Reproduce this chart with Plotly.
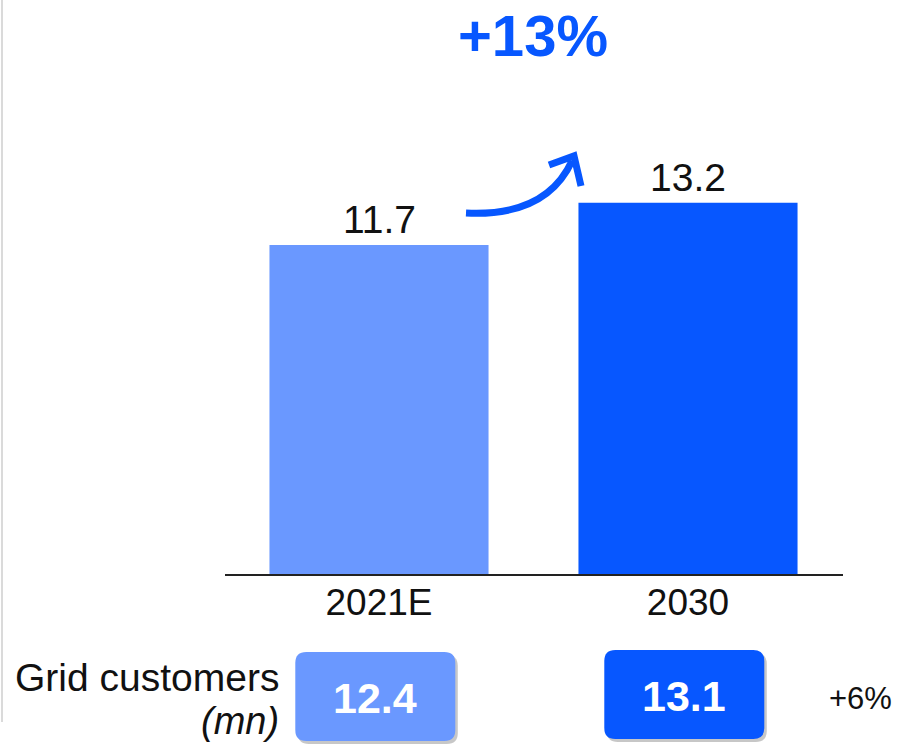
import plotly.graph_objects as go

# Data
years = ["2021E", "2030"]
customers_bn = [11.7, 13.2]
grid_customers_mn = [12.4, 13.1]
bar_growth = "+13%"
grid_growth = "+6%"

light_blue = "#6A98FF"
dark_blue = "#0757FF"
bar_colors = [light_blue, dark_blue]

W, H = 897, 744
FONT = "Arial, Liberation Sans, Helvetica, sans-serif"


def px(x):
    return x / W


def py(y):
    return 1 - y / H


fig = go.Figure()

fig.add_trace(go.Bar(
    x=years,
    y=customers_bn,
    width=0.709,
    marker=dict(color=bar_colors, line=dict(width=0)),
    cliponaxis=False,
    hoverinfo="skip",
))

shapes = []

# thin grey rule on the left edge
shapes.append(dict(type="line", xref="paper", yref="paper",
                   x0=px(2), x1=px(2), y0=py(0), y1=py(722),
                   line=dict(color="#DADADA", width=2)))

# curved growth arrow between the two bars
shapes.append(dict(type="path", xref="paper", yref="paper",
                   path=(f"M {px(466)},{py(213)} Q {px(546)},{py(217)} {px(572)},{py(161)}"),
                   line=dict(color=dark_blue, width=7)))
shapes.append(dict(type="path", xref="paper", yref="paper",
                   path=(f"M {px(549)},{py(165)} L {px(574)},{py(156)} L {px(581)},{py(186)}"),
                   line=dict(color=dark_blue, width=7)))


def rounded_rect(xc, half_w, y_top, y_bot, r_px):
    """Rounded rectangle: x in category units, y in paper units."""
    rx = r_px / 309.0
    ry = r_px / H
    x0, x1 = xc - half_w, xc + half_w
    y0, y1 = py(y_bot), py(y_top)
    return (f"M {x0 + rx},{y1} L {x1 - rx},{y1} Q {x1},{y1} {x1},{y1 - ry} "
            f"L {x1},{y0 + ry} Q {x1},{y0} {x1 - rx},{y0} "
            f"L {x0 + rx},{y0} Q {x0},{y0} {x0},{y0 + ry} "
            f"L {x0},{y1 - ry} Q {x0},{y1} {x0 + rx},{y1} Z")


half_w = 80 / 309.0
box_tops = [652, 650]
box_bots = [741, 739]
for i, (val, col) in enumerate(zip(grid_customers_mn, bar_colors)):
    xc = i - 0.012
    # soft drop shadow
    shapes.append(dict(type="path", xref="x", yref="paper",
                       path=rounded_rect(xc + 2.5 / 309, half_w, box_tops[i] + 3, box_bots[i] + 3, 11),
                       fillcolor="rgba(0,0,0,0.22)", line=dict(width=0), layer="below"))
    shapes.append(dict(type="path", xref="x", yref="paper",
                       path=rounded_rect(xc, half_w, box_tops[i], box_bots[i], 11),
                       fillcolor=col, line=dict(width=0), layer="above"))

annotations = [
    dict(text=f"<b>{bar_growth}</b>", xref="paper", yref="paper",
         x=px(533), y=py(36), xanchor="center", yanchor="middle", showarrow=False,
         font=dict(family=FONT, size=58, color=dark_blue)),
    dict(text="Grid customers", xref="paper", yref="paper",
         x=px(281), y=py(677), xanchor="right", yanchor="middle", showarrow=False,
         font=dict(family=FONT, size=39, color="#111111")),
    dict(text="<i>(mn)</i>", xref="paper", yref="paper",
         x=px(281), y=py(721), xanchor="right", yanchor="middle", showarrow=False,
         font=dict(family=FONT, size=38, color="#111111")),
    dict(text=grid_growth, xref="paper", yref="paper",
         x=px(860), y=py(698), xanchor="center", yanchor="middle", showarrow=False,
         font=dict(family=FONT, size=31, color="#111111")),
]
# value labels sitting on top of each bar (category index on the x axis)
for i, val in enumerate(customers_bn):
    annotations.append(dict(
        text=f"{val:.1f}", xref="x", yref="y", x=i, y=val,
        xanchor="center", yanchor="bottom", yshift=2, showarrow=False,
        font=dict(family=FONT, size=39, color="#111111")))
for i, val in enumerate(grid_customers_mn):
    annotations.append(dict(
        text=f"<b>{val:.1f}</b>", xref="x", yref="paper",
        x=i - 0.012, y=py((box_tops[i] + box_bots[i]) / 2 + 1),
        xanchor="center", yanchor="middle", showarrow=False,
        font=dict(family=FONT, size=43, color="white")))

fig.update_layout(
    width=W, height=H,
    margin=dict(l=0, r=0, t=0, b=0),
    paper_bgcolor="white", plot_bgcolor="white",
    showlegend=False,
    shapes=shapes,
    annotations=annotations,
    xaxis=dict(domain=[224.5 / W, 842.5 / W], range=[-0.5, 1.5],
               type="category", showgrid=False, zeroline=False,
               showline=True, linecolor="#222222", linewidth=2,
               ticks="", tickfont=dict(family=FONT, size=37, color="#111111"),
               ticklabelstandoff=-5, fixedrange=True),
    yaxis=dict(domain=[1 - 574 / H, 1], range=[0, 574 / 28.12],
               visible=False, fixedrange=True),
)

fig.write_html("out.html")
